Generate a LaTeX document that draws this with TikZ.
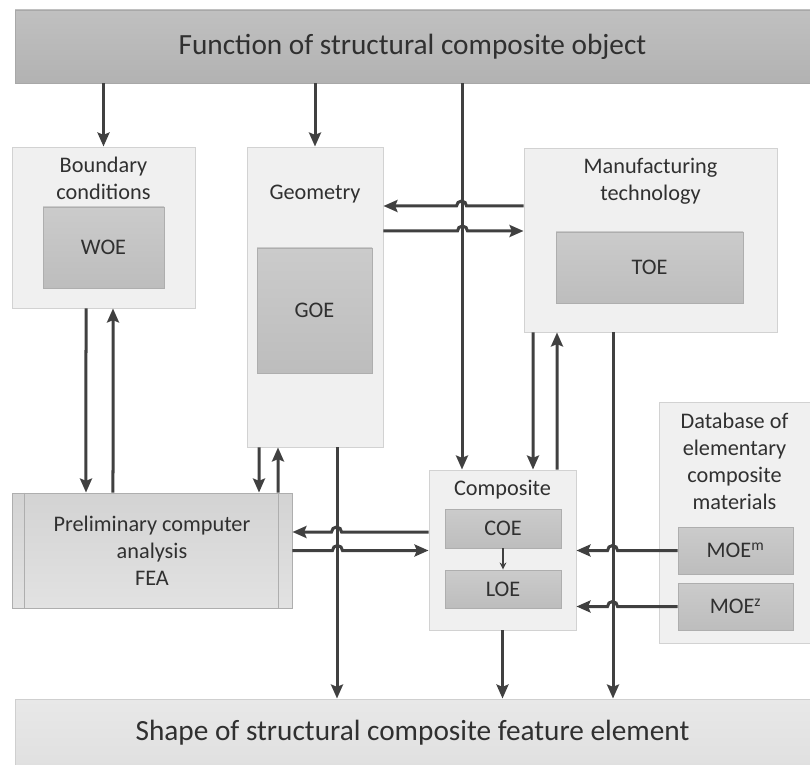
\documentclass[tikz,border=0pt]{standalone}
\usepackage{fontspec}
\setmainfont{Carlito}
\usetikzlibrary{arrows.meta, positioning, calc}

\definecolor{bartop}{HTML}{C0C0C0}
\definecolor{barbot}{HTML}{B2B2B2}
\definecolor{barrule}{HTML}{A8A8A8}
\definecolor{basetop}{HTML}{E8E8E8}
\definecolor{basebot}{HTML}{E0E0E0}
\definecolor{baserule}{HTML}{CFCFCF}
\definecolor{panelfill}{HTML}{F0F0F0}
\definecolor{panelrule}{HTML}{D2D2D2}
\definecolor{blocktop}{HTML}{CBCBCB}
\definecolor{blockbot}{HTML}{BDBDBD}
\definecolor{blockrule}{HTML}{AEAEAE}
\definecolor{featop}{HTML}{D3D3D3}
\definecolor{feabot}{HTML}{E2E2E2}
\definecolor{wire}{HTML}{404040}
\definecolor{ink}{HTML}{303030}

\begin{document}
\begin{tikzpicture}[x=0.03cm, y=0.03cm,
  >={Stealth[length=0.42cm, width=0.36cm, inset=0.07cm]},
  sz/.style 2 args={minimum width=#1*0.03cm, minimum height=#2*0.03cm},
  headbar/.style={draw=barrule, line width=0.8pt, top color=bartop, bottom color=barbot, inner sep=0pt, text=ink, font=\fontsize{25}{30}\selectfont},
  panel/.style={draw=panelrule, line width=0.8pt, fill=panelfill, inner sep=0pt},
  block/.style={draw=blockrule, line width=0.8pt, top color=blocktop, bottom color=blockbot, inner sep=0pt, text=ink, align=center, font=\fontsize{19}{23}\selectfont},
  lbl/.style={text=ink, font=\fontsize{19}{23}\selectfont, align=center, inner sep=0pt},
  flow/.style={->, draw=wire, line width=0.09cm}]

\useasboundingbox (0,0) rectangle (810,-765);

% Top and bottom bars
\node[headbar, sz={795}{73}] (func) at (412.5,-46.5) {Function of structural composite object};
\node[headbar, sz={795}{68}, top color=basetop, bottom color=basebot, draw=baserule] (shape) at (412.5,-733) {Shape of structural composite feature element};

% Panels
\node[panel, sz={183}{161}] (bc) at (103.5,-227.5) {};
\node[panel, sz={136}{300}] (geo) at (315,-297) {};
\node[panel, sz={253}{184}] (man) at (650.5,-240) {};
\node[panel, sz={147}{160}] (comp) at (502.5,-550) {};
\node[panel, sz={151}{241}] (db) at (734.5,-522.5) {};

\node[lbl, below=0.3cm of bc.north] (bct) {Boundary\\conditions};
\node[lbl, below=1.14cm of geo.north] (geot) {Geometry};
\node[lbl, below=0.3cm of man.north] (mant) {Manufacturing\\technology};
\node[lbl, below=0.3cm of comp.north] (compt) {Composite};
\node[lbl, below=0.33cm of db.north] (dbt) {Database of\\elementary\\composite\\materials};

% Inner blocks
\node[block, sz={121}{81}] (woe) at (103.5,-247.5) {WOE};
\node[block, sz={115}{125}] (goe) at (314.5,-310.5) {GOE};
\node[block, sz={187}{71}] (toe) at (649.5,-267.5) {TOE};
\node[block, sz={116}{39}] (coe) at (503,-528.5) {COE};
\node[block, sz={116}{38}] (loe) at (503,-589) {LOE};
\node[block, sz={115}{47}] (moem) at (735.5,-550.5) {MOE\textsuperscript{m}};
\node[block, sz={115}{47}] (moez) at (735.5,-606.5) {MOE\textsuperscript{z}};

% FEA
\node[block, sz={280}{115}, top color=featop, bottom color=feabot] (fea) at (152,-550.5) {Preliminary computer\\analysis\\FEA};
\draw[blockrule, line width=0.8pt] ([xshift=0.39cm]fea.north west) -- ([xshift=0.39cm]fea.south west);
\draw[blockrule, line width=0.8pt] ([xshift=-0.42cm]fea.north east) -- ([xshift=-0.42cm]fea.south east);

% Long lines that get crossed
\coordinate (jx) at ([xshift=-1.215cm]comp.north);
\coordinate (gx) at ([xshift=0.66cm]geo.south);
\coordinate (mx) at ([xshift=-1.125cm]man.south);

\draw[flow] (func.south -| bc.north) -- (bc.north);
\draw[flow] (func.south -| geo.north) -- (geo.north);
\draw[flow] (func.south -| jx) -- (jx);
\draw[flow] (gx) -- (gx |- shape.north);
\draw[flow] (mx) -- (mx |- shape.north);
\draw[flow] (comp.south) -- (comp.south |- shape.north);

% Geometry <-> Manufacturing
\draw[flow] ([yshift=1.02cm]man.west) -- ++(-57,0) arc[start angle=0, end angle=180, radius=5] -- ([yshift=2.73cm]geo.east);
\draw[flow] ([yshift=1.98cm]geo.east) -- ++(74,0) arc[start angle=180, end angle=0, radius=5] -- ([yshift=0.27cm]man.west);

% Boundary <-> FEA, Geometry <-> FEA
\draw[flow] ([xshift=-0.525cm]bc.south) -- ([xshift=-1.98cm]fea.north);
\draw[flow] ([xshift=-1.17cm]fea.north) -- ([xshift=0.285cm]bc.south);
\draw[flow] ([xshift=-1.68cm]geo.south) -- ([xshift=3.21cm]fea.north);
\draw[flow] ([xshift=3.78cm]fea.north) -- ([xshift=-1.11cm]geo.south);

% FEA <-> Composite
\draw[flow] ([yshift=0.54cm]comp.west) -- ++(-87,0) arc[start angle=0, end angle=180, radius=5] -- ([yshift=0.555cm]fea.east);
\draw[flow] (fea.east) -- ++(40,0) arc[start angle=180, end angle=0, radius=5] -- (fea.east -| comp.west);

% Manufacturing <-> Composite
\draw[flow] ([xshift=-3.525cm]man.south) -- ([xshift=0.915cm]comp.north);
\draw[flow] ([xshift=1.635cm]comp.north) -- ([xshift=-2.805cm]man.south);

% Materials into Composite
\draw[flow] (moem.west) -- ++(-60,0) arc[start angle=0, end angle=180, radius=5] -- (moem.west -| comp.east);
\draw[flow] (moez.west) -- ++(-60,0) arc[start angle=0, end angle=180, radius=5] -- (moez.west -| comp.east);

\draw[->, >={Stealth[length=0.21cm, width=0.2cm]}, draw=wire, line width=0.04cm] (coe.south) -- (loe.north);
\end{tikzpicture}
\end{document}
